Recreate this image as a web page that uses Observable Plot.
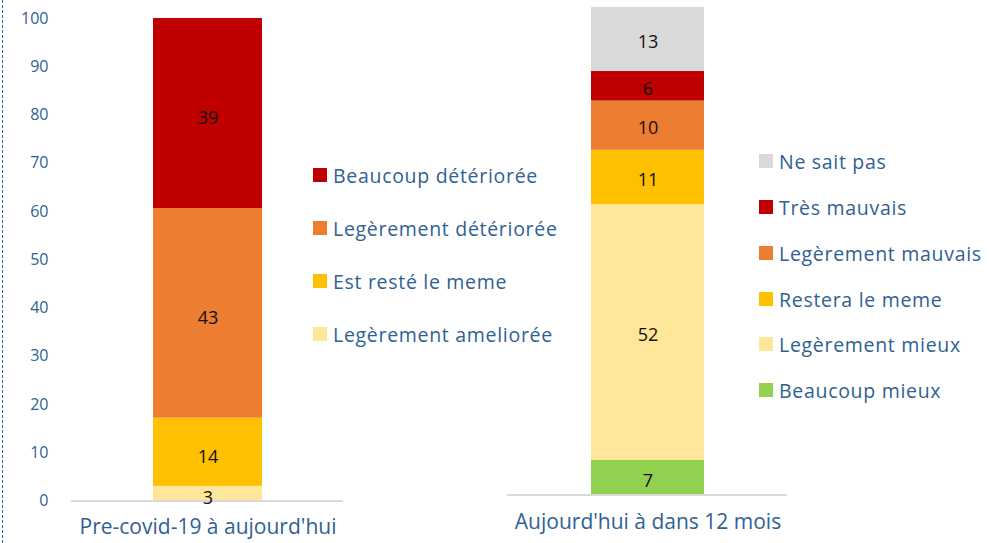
<!DOCTYPE html>
<html>
<head>
<meta charset="utf-8">
<script src="https://cdn.jsdelivr.net/npm/d3@7"></script>
<script src="https://cdn.jsdelivr.net/npm/@observablehq/plot@0.6"></script>
<style>
  html, body { margin: 0; padding: 0; background: #fff; }
  #root { position: relative; width: 989px; height: 543px; overflow: hidden; font-family: "Open Sans", Lato, sans-serif; }
  .panel { position: absolute; top: 0; }
  .legend { position: absolute; color: #2F6192; font-size: 19.5px; letter-spacing: 0.7px; }
  .legend .item { position: absolute; white-space: nowrap; display: flex; align-items: center; height: 26px; margin-top: -13px; }
  .legend .sw { display: inline-block; width: 14px; height: 14px; margin-right: 6px; }
  #dash { position: absolute; left: 2px; top: 0; width: 0; height: 543px; border-left: 1px dashed #2F6192; }
</style>
</head>
<body>
<div id="root">
  <div id="dash"></div>
  <div id="left" class="panel" style="left:0px"></div>
  <div id="right" class="panel" style="left:507px"></div>
  <div id="legLeft" class="legend" style="left:313px; top:0px"></div>
  <div id="legRight" class="legend" style="left:759px; top:0px"></div>
</div>
<script>
// ---- data ----
const leftPeriod = "Pre-covid-19 à aujourd'hui";
const leftCategories = ["Legèrement ameliorée", "Est resté le meme", "Legèrement détériorée", "Beaucoup détériorée"];
const leftValues = [3, 14, 43, 39];
const leftColors = ["#FFE699", "#FFC000", "#ED7D31", "#C00000"];

const rightPeriod = "Aujourd'hui à dans 12 mois";
const rightCategories = ["Beaucoup mieux", "Legèrement mieux", "Restera le meme", "Legèrement mauvais", "Très mauvais", "Ne sait pas"];
const rightValues = [7, 52, 11, 10, 6, 13];
const rightColors = ["#92D050", "#FFE699", "#FFC000", "#ED7D31", "#C00000", "#D9D9D9"];

const yTicks = [0, 10, 20, 30, 40, 50, 60, 70, 80, 90, 100];

const textBlue = "#2F6192";
const font = "'Open Sans', Lato, sans-serif";

function rows(period, cats, vals) {
  return cats.map((c, i) => ({period, category: c, value: vals[i]}));
}

const leftData = rows(leftPeriod, leftCategories, leftValues);
const rightData = rows(rightPeriod, rightCategories, rightValues);

const leftPlot = Plot.plot({
  width: 343,
  height: 543,
  marginLeft: 71,
  marginRight: 0,
  marginTop: 18,
  marginBottom: 42.5,
  style: {fontFamily: font, background: "transparent", overflow: "visible"},
  x: {domain: [leftPeriod], padding: 0.428, label: null},
  y: {domain: [0, 100], percent: true, label: null},
  color: {domain: leftCategories, range: leftColors},
  marks: [
    Plot.barY(leftData, Plot.stackY({x: "period", y: "value", fill: "category", offset: "normalize"})),
    Plot.ruleY([0], {stroke: "#D9D9D9", strokeWidth: 2}),
    Plot.text(leftData, Plot.stackY({x: "period", y: "value", text: d => String(d.value), offset: "normalize", fill: "#111", fontSize: 18, dy: 5})),
    Plot.axisY({ticks: yTicks, tickSize: 0, tickPadding: 23, fontSize: 16, color: textBlue, label: null}),
    Plot.axisX({tickSize: 0, tickPadding: 18, fontSize: 21, color: textBlue, label: null})
  ]
});
document.getElementById("left").appendChild(leftPlot);

const rightPlot = Plot.plot({
  width: 280,
  height: 543,
  marginLeft: 0,
  marginRight: 0,
  marginTop: 7,
  marginBottom: 48.5,
  style: {fontFamily: font, background: "transparent", overflow: "visible"},
  x: {domain: [rightPeriod], padding: 0.425, label: null},
  y: {domain: [0, 100], percent: true, axis: null},
  color: {domain: rightCategories, range: rightColors},
  marks: [
    Plot.barY(rightData, Plot.stackY({x: "period", y: "value", fill: "category", offset: "normalize"})),
    Plot.ruleY([0], {stroke: "#D9D9D9", strokeWidth: 2}),
    Plot.text(rightData, Plot.stackY({x: "period", y: "value", text: d => String(d.value), offset: "normalize", fill: "#111", fontSize: 18, dy: 3})),
    Plot.axisX({tickSize: 0, tickPadding: 19, fontSize: 21, color: textBlue, label: null})
  ]
});
document.getElementById("right").appendChild(rightPlot);

function legend(el, cats, colors, ys) {
  const order = cats.map((c, i) => i).reverse();
  order.forEach((i, k) => {
    const item = document.createElement("div");
    item.className = "item";
    item.style.top = ys[k] + "px";
    const sw = document.createElement("span");
    sw.className = "sw";
    sw.style.background = colors[i];
    item.appendChild(sw);
    item.appendChild(document.createTextNode(cats[i]));
    el.appendChild(item);
  });
}
legend(document.getElementById("legLeft"), leftCategories, leftColors, [175, 228, 281, 334]);
legend(document.getElementById("legRight"), rightCategories, rightColors, [161, 207, 253, 299, 344, 390]);
</script>
</body>
</html>
